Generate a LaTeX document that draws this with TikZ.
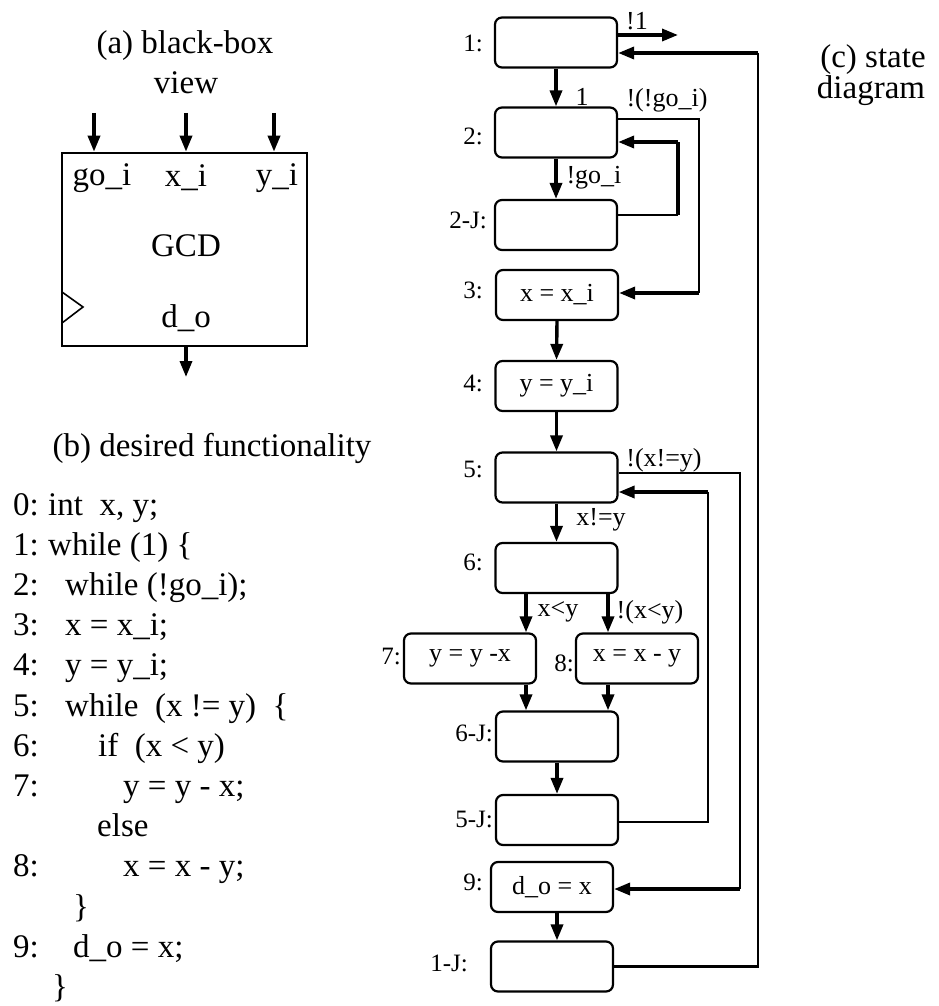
\documentclass[tikz,border=0pt]{standalone}
\usepackage{fontspec}
\setmainfont{Liberation Serif}
\usetikzlibrary{arrows.meta}
\begin{document}
\begin{tikzpicture}[x=1pt,y=-1pt,
  sbox/.style={draw, line width=2.2pt, rounded corners=7pt, minimum width=122pt, minimum height=50pt, inner sep=0pt, font=\fontsize{26}{30}\selectfont},
  slab/.style={anchor=east, inner sep=0pt, font=\fontsize{25}{30}\selectfont},
  elab/.style={inner sep=0pt, font=\fontsize{26}{30}\selectfont},
  arr/.style={line width=3.4pt, -{Triangle[length=16pt,width=12pt]}},
  thinline/.style={line width=2.2pt},
  thkline/.style={line width=3.4pt},
  big/.style={inner sep=0pt, font=\fontsize{33}{40}\selectfont},
  code/.style={anchor=base west, inner sep=0pt, font=\fontsize{33}{40}\selectfont}]
\useasboundingbox (0,0) rectangle (938,1006);

% ---------- (a) black-box view ----------
\node[big] (ta1) at (185,46) {(a) black-box};
\node[big] (ta2) at (186,83) {view};
\node[draw, line width=2.6pt, minimum width=245pt, minimum height=193pt, inner sep=0pt] (bb) at (184.5,249.5) {};
\coordinate (ingo) at (94,113);
\coordinate (inx) at (186,113);
\coordinate (iny) at (274,113);
\coordinate (outd) at (186,377);
\draw[arr] (ingo) -- (ingo |- bb.north);
\draw[arr] (inx) -- (inx |- bb.north);
\draw[arr] (iny) -- (iny |- bb.north);
\draw[arr] (outd |- bb.south) -- (outd);
\node[big] (lgo) at (102,178) {go\_i};
\node[big] (lx) at (186,178) {x\_i};
\node[big] (ly) at (277,178) {y\_i};
\node[big] (lgcd) at (186,246) {GCD};
\node[big] (ldo) at (186,318) {d\_o};
\coordinate (ck1) at (62,292);
\coordinate (ck2) at (83,307);
\coordinate (ck3) at (62,323);
\draw[line width=1.6pt] (ck1) -- (ck2) -- (ck3);

% ---------- (b) desired functionality ----------
\node[big] (tb) at (212,448) {(b) desired functionality};
\foreach \n/\y in {0/515,1/555.2,2/595.4,3/635.6,4/675.8,5/716,6/756.2,7/796.4,8/876.8,9/957.2}
  \node[code] (num\n) at (13,\y) {\n:};
\node[code] (c0) at (48,515) {int\ \ x, y;};
\node[code] (c1) at (48,555.2) {while (1) \{};
\node[code] (c2) at (65,595.4) {while (!go\_i);};
\node[code] (c3) at (65,635.6) {x = x\_i;};
\node[code] (c4) at (65,675.8) {y = y\_i;};
\node[code] (c5) at (65,716) {while\ \ (x != y)\ \ \{};
\node[code] (c6) at (98,756.2) {if\ \ (x < y)};
\node[code] (c7) at (123,796.4) {y = y - x;};
\node[code] (celse) at (97,836.6) {else};
\node[code] (c8) at (123,876.8) {x = x - y;};
\node[code] (cb1) at (73,917) {\}};
\node[code] (c9) at (73,957.2) {d\_o = x;};
\node[code] (cb2) at (52,997.4) {\}};

% ---------- (c) state diagram ----------
\node[big] (tc1) at (873,60) {(c) state};
\node[big] (tc2) at (871,91) {diagram};

\node[sbox] (s1) at (556,42.5) {};
\node[sbox] (s2) at (556,132.5) {};
\node[sbox] (s2j) at (556,225) {};
\node[sbox] (s3) at (557,295) {x = x\_i};
\node[sbox] (s4) at (556.5,386) {y = y\_i};
\node[sbox] (s5) at (556.5,477.5) {};
\node[sbox] (s6) at (556.5,568) {};
\node[sbox, minimum width=132pt] (s7) at (470,658.5) {\raisebox{3pt}{y = y -x}};
\node[sbox] (s8) at (637,658.5) {\raisebox{3pt}{x = x - y}};
\node[sbox] (s6j) at (557,736.5) {};
\node[sbox] (s5j) at (557,820) {};
\node[sbox] (s9) at (552,887) {d\_o = x};
\node[sbox] (s1j) at (552,966.5) {};

\node[slab] (l1) at (483,43) {1:};
\node[slab] (l2) at (483,136) {2:};
\node[slab] (l2j) at (487,220) {2-J:};
\node[slab] (l3) at (483,290) {3:};
\node[slab] (l4) at (483,383) {4:};
\node[slab] (l5) at (483,469) {5:};
\node[slab] (l6) at (483,562) {6:};
\node[slab] (l7) at (401,656) {7:};
\node[slab] (l8) at (574,663) {8:};
\node[slab] (l6j) at (493,733) {6-J:};
\node[slab] (l5j) at (493,819) {5-J:};
\node[slab] (l9) at (483,882) {9:};
\node[slab] (l1j) at (468,963) {1-J:};

% edge labels
\node[elab] (e1) at (637,21) {!1};
\node[elab] (e2) at (582,97) {1};
\node[elab] (e3) at (667,100) {!(!go\_i)};
\node[elab] (e4) at (594,178) {!go\_i};
\node[elab] (e5) at (664,460) {!(x!=y)};
\node[elab] (e6) at (601,520) {x!=y};
\node[elab] (e7) at (558,612) {x<y};
\node[elab] (e8) at (650,612) {!(x<y)};

% vertical arrows
\draw[arr] (s1.south) -- (s2.north);
\draw[arr] (s2.south) -- (s2j.north);
\draw[arr] (s3.south) -- (s4.north);
\draw[arr] (s4.south) -- (s5.north);
\draw[arr] (s5.south) -- (s6.north);
\coordinate (ca) at (526,0);
\coordinate (cb) at (608,0);
\draw[arr] (s6.south -| ca) -- (s7.north -| ca);
\draw[arr] (s6.south -| cb) -- (s8.north -| cb);
\draw[arr] (s7.south -| ca) -- (s6j.north -| ca);
\draw[arr] (s8.south -| cb) -- (s6j.north -| cb);
\draw[arr] (s6j.south) -- (s5j.north);
\coordinate (cc) at (557,0);
\draw[arr] (s9.south -| cc) -- (s1j.north -| cc);

% exit !1
\coordinate (ex1) at (678,35);
\draw[arr] (s1.east |- ex1) -- (ex1);

% 1-J back to 1
\coordinate (r1) at (758,53);
\draw[thinline] (s1j.east) -| (r1);
\draw[arr] (r1) -- (s1.east |- r1);

% 2 -> 3  !(!go_i)
\coordinate (r2a) at (699,119);
\coordinate (r2b) at (699,293);
\draw[thinline] (s2.east |- r2a) -- (r2a) -- (r2b);
\draw[arr] (r2b) -- (s3.east |- r2b);

% 2-J -> 2
\coordinate (r3a) at (678,215);
\coordinate (r3b) at (678,142);
\draw[thinline] (s2j.east |- r3a) -- (r3a);
\draw[thkline] (r3a) -- (r3b);
\draw[arr] (r3b) -- (s2.east |- r3b);

% 5 -> 9  !(x!=y)
\coordinate (r5a) at (740,473);
\coordinate (r5b) at (740,889);
\draw[thinline] (s5.east |- r5a) -- (r5a) -- (r5b);
\draw[arr] (r5b) -- (s9.east |- r5b);

% 5-J -> 5
\coordinate (r6a) at (708,822);
\coordinate (r6b) at (708,492);
\draw[thinline] (s5j.east |- r6a) -- (r6a) -- (r6b);
\draw[arr] (r6b) -- (s5.east |- r6b);
\end{tikzpicture}
\end{document}
